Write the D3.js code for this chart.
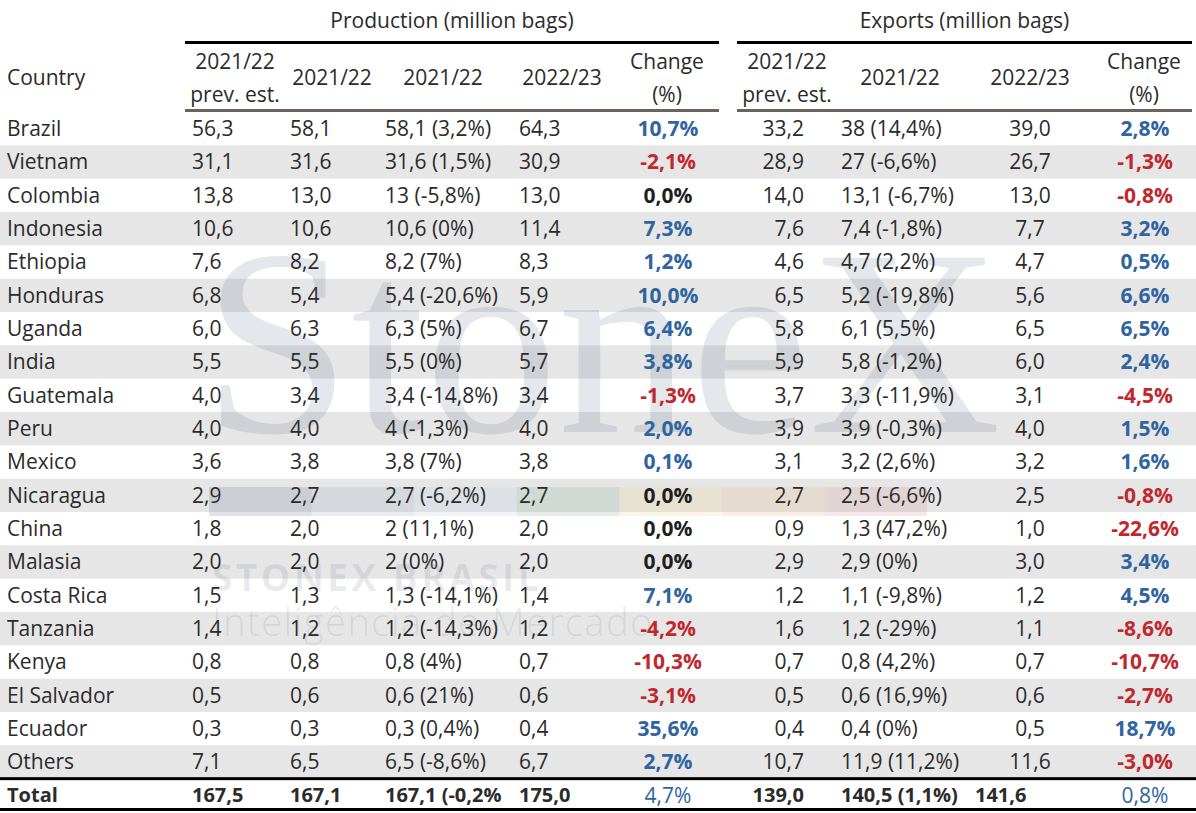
<!DOCTYPE html>
<html><head><meta charset="utf-8">
<script src="https://cdn.jsdelivr.net/npm/d3@7"></script>
<style>html,body{margin:0;padding:0;background:#fff;}svg{display:block;}</style>
</head><body>
<svg id="chart" width="1196" height="813"></svg>
<script>
const countries = ["Brazil","Vietnam","Colombia","Indonesia","Ethiopia","Honduras","Uganda","India","Guatemala","Peru","Mexico","Nicaragua","China","Malasia","Costa Rica","Tanzania","Kenya","El Salvador","Ecuador","Others","Total"];
const prodPrev = ["56,3","31,1","13,8","10,6","7,6","6,8","6,0","5,5","4,0","4,0","3,6","2,9","1,8","2,0","1,5","1,4","0,8","0,5","0,3","7,1","167,5"];
const prod2122 = ["58,1","31,6","13,0","10,6","8,2","5,4","6,3","5,5","3,4","4,0","3,8","2,7","2,0","2,0","1,3","1,2","0,8","0,6","0,3","6,5","167,1"];
const prod2122Chg = ["58,1 (3,2%)","31,6 (1,5%)","13 (-5,8%)","10,6 (0%)","8,2 (7%)","5,4 (-20,6%)","6,3 (5%)","5,5 (0%)","3,4 (-14,8%)","4 (-1,3%)","3,8 (7%)","2,7 (-6,2%)","2 (11,1%)","2 (0%)","1,3 (-14,1%)","1,2 (-14,3%)","0,8 (4%)","0,6 (21%)","0,3 (0,4%)","6,5 (-8,6%)","167,1 (-0,2%"];
const prod2223 = ["64,3","30,9","13,0","11,4","8,3","5,9","6,7","5,7","3,4","4,0","3,8","2,7","2,0","2,0","1,4","1,2","0,7","0,6","0,4","6,7","175,0"];
const prodChange = [10.7,-2.1,0.0,7.3,1.2,10.0,6.4,3.8,-1.3,2.0,0.1,0.0,0.0,0.0,7.1,-4.2,-10.3,-3.1,35.6,2.7,4.7];
const expPrev = ["33,2","28,9","14,0","7,6","4,6","6,5","5,8","5,9","3,7","3,9","3,1","2,7","0,9","2,9","1,2","1,6","0,7","0,5","0,4","10,7","139,0"];
const exp2122Chg = ["38 (14,4%)","27 (-6,6%)","13,1 (-6,7%)","7,4 (-1,8%)","4,7 (2,2%)","5,2 (-19,8%)","6,1 (5,5%)","5,8 (-1,2%)","3,3 (-11,9%)","3,9 (-0,3%)","3,2 (2,6%)","2,5 (-6,6%)","1,3 (47,2%)","2,9 (0%)","1,1 (-9,8%)","1,2 (-29%)","0,8 (4,2%)","0,6 (16,9%)","0,4 (0%)","11,9 (11,2%)","140,5 (1,1%)"];
const exp2223 = ["39,0","26,7","13,0","7,7","4,7","5,6","6,5","6,0","3,1","4,0","3,2","2,5","1,0","3,0","1,2","1,1","0,7","0,6","0,5","11,6","141,6"];
const expChange = [2.8,-1.3,-0.8,3.2,0.5,6.6,6.5,2.4,-4.5,1.5,1.6,-0.8,-22.6,3.4,4.5,-8.6,-10.7,-2.7,18.7,-3.0,0.8];
const groupTitles = ["Production (million bags)","Exports (million bags)"];
const prodHeaders = [["2021/22","prev. est."],["2021/22"],["2021/22"],["2022/23"],["Change","(%)"]];
const expHeaders = [["2021/22","prev. est."],["2021/22"],["2022/23"],["Change","(%)"]];
const countryHeader = "Country";
const stoneWatermark = ["StoneX","STONEX BRASIL","Inteligência de Mercado"];
const stripeColors = ["#5f7390","#8fa0b8","#b8c9dd","#7fa48a","#e8cf78","#e3b07c","#cc8a8a"];

const FONT = "'Open Sans', sans-serif";
const FS = 21;
const BLUE = "#30649f", RED = "#c0282e", DARK = "#1f1f1f", TXT = "#2b2b2b";
const svg = d3.select("#chart");
const W = 1196;

const y = d3.scaleBand().domain(countries).range([112, 812]).paddingInner(0);
const rowY = c => y(c) + y.bandwidth()/2;

// stripes
svg.append("g").selectAll("rect").data(countries.filter((c,i)=>i%2===1)).join("rect")
  .attr("x",0).attr("width",W).attr("y",c=>y(c)).attr("height",y.bandwidth()).attr("fill","#e6e6e6");

// watermark
const wm = svg.append("g").attr("pointer-events","none");
wm.append("text").attr("x",203).attr("y",432).attr("font-family","'Liberation Serif', serif").attr("font-size",266)
  .attr("fill","#4a5d7a").attr("fill-opacity",0.15).text(stoneWatermark[0]);
const sx = d3.scaleBand().domain(d3.range(stripeColors.length)).range([209,927]);
wm.selectAll("rect.s").data(stripeColors).join("rect").attr("class","s")
  .attr("x",(d,i)=>sx(i)).attr("width",sx.bandwidth()).attr("y",487).attr("height",29)
  .attr("fill",d=>d).attr("fill-opacity",0.2);
wm.append("text").attr("x",212).attr("y",591).attr("font-family","'Open Sans', sans-serif").attr("font-weight",700)
  .attr("font-size",37).attr("letter-spacing",3.5).attr("fill","#4a5d7a").attr("fill-opacity",0.12).text(stoneWatermark[1]);
wm.append("text").attr("x",212).attr("y",636).attr("font-family","'Open Sans', sans-serif").attr("font-weight",300)
  .attr("font-size",38).attr("letter-spacing",1.5).attr("fill","#4a5d7a").attr("fill-opacity",0.12).text(stoneWatermark[2]);

// header group titles and lines
const groups = [{x0:185,x1:719},{x0:737,x1:1192}];
svg.append("g").selectAll("text").data(groupTitles).join("text")
  .attr("x",(d,i)=>(groups[i].x0+groups[i].x1)/2).attr("y",21).attr("dy","0.35em")
  .attr("text-anchor","middle").attr("font-family",FONT).attr("font-size",FS).attr("fill",TXT).text(d=>d);
svg.append("g").selectAll("rect").data(groups).join("rect")
  .attr("x",d=>d.x0).attr("width",d=>d.x1-d.x0).attr("y",41).attr("height",3).attr("fill","#000");
svg.append("g").selectAll("rect").data(groups).join("rect")
  .attr("x",d=>d.x0).attr("width",d=>d.x1-d.x0).attr("y",109).attr("height",3).attr("fill","#6b645c");

// column headers
svg.append("text").attr("x",7).attr("y",78).attr("dy","0.35em").attr("font-family",FONT).attr("font-size",FS).attr("fill",TXT).text(countryHeader);
const prodHeadX = [235,332,443,562,667];
const expHeadX = [787,900,1030,1144];
function headers(list, xs){
  list.forEach((lines,i)=>{
    const ys = lines.length===2 ? [62,95] : [78];
    lines.forEach((t,j)=>{
      svg.append("text").attr("x",xs[i]).attr("y",ys[j]).attr("dy","0.35em").attr("text-anchor","middle")
        .attr("font-family",FONT).attr("font-size",FS).attr("fill",TXT).text(t);
    });
  });
}
headers(prodHeaders, prodHeadX);
headers(expHeaders, expHeadX);

// clip for truncated total cell
svg.append("clipPath").attr("id","clipP3").append("rect").attr("x",380).attr("y",100).attr("width",136).attr("height",720);

const isTotal = i => i===countries.length-1;
const chgColor = v => v>0 ? BLUE : (v<0 ? RED : DARK);
const fmtPct = v => d3.format(".1f")(v).replace("\u2212","-").replace(".",",")+"%";

const cols = [
  {vals:countries, x:7, anchor:"start"},
  {vals:prodPrev, x:192, anchor:"start"},
  {vals:prod2122, x:290, anchor:"start"},
  {vals:prod2122Chg, x:385, anchor:"start", clip:"url(#clipP3)"},
  {vals:prod2223, x:519, anchor:"start"},
  {vals:prodChange.map(fmtPct), x:668, anchor:"middle", change:prodChange},
  {vals:expPrev, x:804, anchor:"end"},
  {vals:exp2122Chg, x:841, anchor:"start"},
  {vals:exp2223, x:1030, anchor:"middle", totalX:975, totalAnchor:"start"},
  {vals:expChange.map(fmtPct), x:1145, anchor:"middle", change:expChange}
];
const body = svg.append("g");
cols.forEach(col=>{
  const g = body.append("g");
  if(col.clip) g.attr("clip-path",col.clip);
  g.selectAll("text").data(col.vals).join("text")
    .attr("x",(d,i)=> isTotal(i) && col.totalX ? col.totalX : col.x)
    .attr("text-anchor",(d,i)=> isTotal(i) && col.totalAnchor ? col.totalAnchor : col.anchor)
    .attr("y",(d,i)=>rowY(countries[i])).attr("dy","0.35em")
    .attr("font-family",FONT).attr("font-size",(d,i)=> isTotal(i) && !col.change ? FS-1 : FS)
    .attr("font-weight",(d,i)=> col.change ? (isTotal(i)?400:700) : (isTotal(i)?700:400))
    .attr("fill",(d,i)=> col.change ? chgColor(col.change[i]) : TXT)
    .text(d=>d);
});

// total lines
svg.append("rect").attr("x",0).attr("width",W).attr("y",y("Total")-1.5).attr("height",3).attr("fill","#000");
svg.append("rect").attr("x",0).attr("width",W).attr("y",808).attr("height",3).attr("fill","#000");
</script>
</body></html>
